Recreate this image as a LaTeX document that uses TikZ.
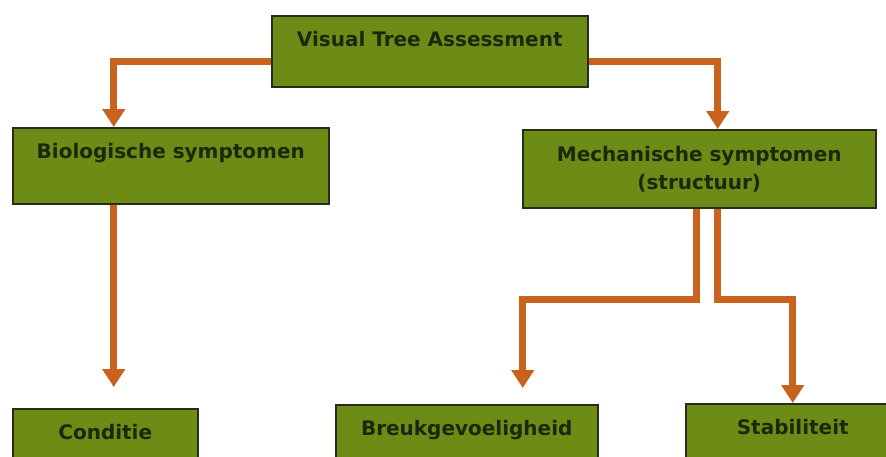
\documentclass[tikz,border=0pt]{standalone}
\usepackage{fontspec}
\setmainfont{DejaVu Sans}
\usetikzlibrary{arrows.meta}
\definecolor{boxgreen}{RGB}{108,140,22}
\definecolor{boxline}{RGB}{40,45,25}
\definecolor{arroworange}{RGB}{200,98,28}
\definecolor{textdark}{RGB}{28,40,12}
\tikzset{
	box/.style={draw=boxline, fill=boxgreen, line width=1.5pt, inner sep=0pt, anchor=north west, text=textdark, font=\bfseries\fontsize{20}{28}\selectfont, align=center},
	toptext/.style={text height=31pt, text depth=#1},
	conn/.style={draw=arroworange, line width=7pt, -{Triangle[width=22pt,length=18pt]}}
}

\begin{document}
\begin{tikzpicture}[x=1pt, y=-1pt]
			%%%%% START %%%%%
			\useasboundingbox (0, 0) rectangle (886, 456);
			\clip (0, 0) rectangle (886, 456);
			
			\node[box, toptext=40pt, minimum width=316pt] (vta) at (271, 15) {Visual Tree Assessment};
			
			\node[box, toptext=45pt, minimum width=316pt] (bio) at (12, 127) {Biologische symptomen};
			\node[box, minimum width=353pt, minimum height=78pt] (mech) at (522, 129) {Mechanische symptomen\\(structuur)};
			
			\node[box, toptext=40pt, minimum width=185pt] (cond) at (12, 408) {Conditie};
			\node[box, toptext=40pt, minimum width=262pt] (breuk) at (335, 404) {Breukgevoeligheid};
			\node[box, toptext=40pt, minimum width=214pt] (stab) at (685, 403) {Stabiliteit};
			
			\draw[conn] ([yshift=-10.5pt]vta.west) -| ([xshift=-57pt]bio.north);
			\draw[conn] ([yshift=-10.5pt]vta.east) -| ([xshift=18.5pt]mech.north);
			
			\draw[conn, shorten >=21pt] ([xshift=-57pt]bio.south) -- ([xshift=-57pt]bio.south |- cond.north);
			
			\draw[conn, shorten >=16pt] ([xshift=-2.5pt]mech.south) -- ++(0, 91) -| ([xshift=56pt]breuk.north);
			\draw[conn] ([xshift=18.5pt]mech.south) -- ++(0, 91) -| (stab.north);
			
			%%%%% END %%%%%
\end{tikzpicture}
\end{document}
